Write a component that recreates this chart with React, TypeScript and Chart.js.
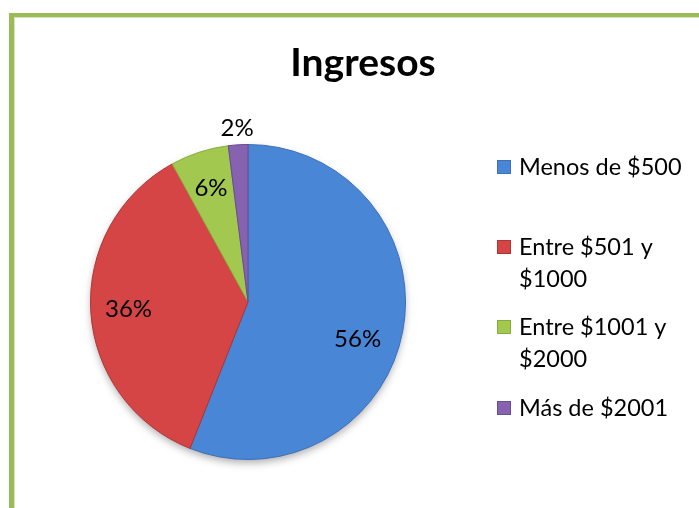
import React, { useEffect, useRef } from "react";
import { Chart, registerables } from "chart.js";

Chart.register(...registerables);

const title = "Ingresos";
const categories = ["Menos de $500", "Entre $501 y $1000", "Entre $1001 y $2000", "Más de $2001"];
const legendLines = [["Menos de $500"], ["Entre $501 y", "$1000"], ["Entre $1001 y", "$2000"], ["Más de $2001"]];
const values = [56, 36, 6, 2];
const valueLabels = ["56%", "36%", "6%", "2%"];

const colors = ["#4A86D6", "#D64545", "#A2C850", "#8662B0"];
const edgeColors = ["#3C70B8", "#B03434", "#86AA3C", "#6A4C92"];
const FONT = "Lato, 'Open Sans', sans-serif";

const overlayPlugin = {
  id: "overlay",
  beforeDraw(chart: any) {
    const ctx = chart.ctx;
    ctx.save();
    ctx.fillStyle = "#FFFFFF";
    ctx.fillRect(0, 0, chart.width, chart.height);
    ctx.fillStyle = "#9BBB59";
    ctx.fillRect(9, 13, 5, chart.height);
    ctx.fillRect(9, 13, chart.width, 4);
    ctx.fillStyle = "#D7E4BD";
    ctx.fillRect(14, 17, 1, chart.height);
    ctx.fillRect(14, 17, chart.width, 1);
    ctx.restore();
  },
  beforeDatasetsDraw(chart: any) {
    const meta = chart.getDatasetMeta(0);
    const a = meta.data[0];
    if (!a) return;
    const ctx = chart.ctx;
    ctx.save();
    ctx.shadowColor = "rgba(0,0,0,0.35)";
    ctx.shadowBlur = 8;
    ctx.shadowOffsetY = 4;
    ctx.beginPath();
    ctx.arc(a.x, a.y, a.outerRadius - 1, 0, Math.PI * 2);
    ctx.fillStyle = "#888";
    ctx.fill();
    ctx.restore();
  },
  afterDraw(chart: any) {
    const ctx = chart.ctx;
    const meta = chart.getDatasetMeta(0);
    ctx.save();
    // title
    ctx.fillStyle = "#000";
    ctx.font = `bold 39px ${FONT}`;
    ctx.textAlign = "center";
    ctx.textBaseline = "alphabetic";
    ctx.fillText(title, 363, 76);
    // value labels
    ctx.font = `24px ${FONT}`;
    ctx.textBaseline = "middle";
    meta.data.forEach((arc: any, i: number) => {
      const mid = (arc.startAngle + arc.endAngle) / 2;
      const r = i === values.length - 1 ? arc.outerRadius + 17 : arc.outerRadius * 0.76;
      const dx = i === 0 ? -8 : 0;
      const dy = i === 0 ? 15 : 0;
      ctx.fillText(valueLabels[i], arc.x + Math.cos(mid) * r + dx, arc.y + Math.sin(mid) * r + dy);
    });
    // legend
    ctx.textAlign = "left";
    ctx.font = `23.5px ${FONT}`;
    const tops = [167, 247, 327, 408];
    legendLines.forEach((lines, i) => {
      const y = tops[i];
      ctx.fillStyle = colors[i];
      ctx.fillRect(497, y - 7, 14, 14);
      ctx.strokeStyle = edgeColors[i];
      ctx.lineWidth = 1;
      ctx.strokeRect(497.5, y - 6.5, 13, 13);
      ctx.fillStyle = "#000";
      lines.forEach((ln, j) => ctx.fillText(ln, 519, y + j * 32));
    });
    ctx.restore();
  },
};

export default function App() {
  const ref = useRef<HTMLCanvasElement>(null);
  useEffect(() => {
    if (!ref.current) return;
    const chart = new Chart(ref.current, {
      type: "pie",
      data: {
        labels: categories,
        datasets: [
          {
            data: values,
            backgroundColor: colors,
            borderColor: edgeColors,
            borderWidth: 1,
          },
        ],
      },
      options: {
        animation: false,
        responsive: false,
        layout: { padding: { left: 90, right: 293, top: 144, bottom: 48 } },
        plugins: {
          legend: { display: false },
          title: { display: false },
          tooltip: { enabled: false },
        },
      },
      plugins: [overlayPlugin],
    });
    return () => chart.destroy();
  }, []);
  return (
    <div style={{ position: "fixed", left: 0, top: 0, width: 699, height: 508 }}>
      <canvas ref={ref} width={699} height={508} style={{ display: "block" }} />
    </div>
  );
}
